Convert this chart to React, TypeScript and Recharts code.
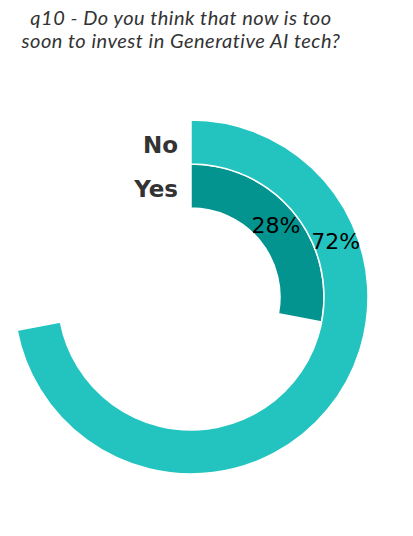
import React from "react";
import {
  RadialBarChart,
  RadialBar,
  PolarAngleAxis,
  PolarRadiusAxis,
  Cell,
} from "recharts";

// innermost ring first
const answers = ["Yes", "No"];
const shares = [28, 72];
const ringColors = ["#039490", "#23C4BF"];

// where along each ring the % label sits (degrees from the ring start)
const labelSweep: Record<string, number> = { Yes: 50, No: 69 };

const data = answers.map((name, i) => ({ name, value: shares[i] }));

const RAD = Math.PI / 180;

function renderCategoryTick(props: any) {
  const { x, y, payload } = props;
  return (
    <text
      x={x - 13}
      y={y}
      dy={3}
      textAnchor="end"
      dominantBaseline="central"
      fontFamily="DejaVu Sans"
      fontWeight="bold"
      fontSize={23}
      fill="#333333"
    >
      {payload.value}
    </text>
  );
}

function renderValueLabel(props: any) {
  const vb = props.viewBox ?? props;
  const { cx, cy, innerRadius, outerRadius, startAngle } = vb;
  const name = answers[props.index];
  const angle = startAngle - (labelSweep[name] ?? 0);
  const r = (innerRadius + outerRadius) / 2;
  const x = cx + r * Math.cos(-angle * RAD);
  const y = cy + r * Math.sin(-angle * RAD);
  return (
    <text
      x={x}
      y={y}
      textAnchor="middle"
      dominantBaseline="central"
      fontFamily="DejaVu Sans"
      fontSize={22}
      fill="#000000"
    >
      {`${props.value}%`}
    </text>
  );
}

export default function App() {
  return (
    <div
      style={{
        position: "absolute",
        left: 0,
        top: 0,
        width: 413,
        height: 536,
        background: "#fff",
      }}
    >
      <div
        style={{
          position: "absolute",
          left: 0,
          top: 6,
          width: 362,
          textAlign: "center",
          fontFamily: "Lato",
          fontStyle: "italic",
          fontSize: 20,
          letterSpacing: 0.5,
          lineHeight: "23px",
          color: "#333333",
        }}
      >
        q10 - Do you think that now is too
        <br />
        soon to invest in Generative AI tech?
      </div>
      <div style={{ position: "absolute", left: 0, top: 0 }}>
        <RadialBarChart
          width={413}
          height={536}
          cx={191}
          cy={297}
          innerRadius={89}
          outerRadius={177}
          startAngle={90}
          endAngle={-270}
          barCategoryGap={0}
          data={data}
        >
          <PolarAngleAxis type="number" domain={[0, 100]} tick={false} axisLine={false} />
          <PolarRadiusAxis
            type="category"
            dataKey="name"
            angle={90}
            orientation="left"
            axisLine={false}
            tickLine={false}
            tick={renderCategoryTick}
          />
          <RadialBar
            dataKey="value"
            isAnimationActive={false}
            stroke="#ffffff"
            strokeWidth={1.5}
            label={renderValueLabel}
          >
            {data.map((d, i) => (
              <Cell key={d.name} fill={ringColors[i]} />
            ))}
          </RadialBar>
        </RadialBarChart>
      </div>
    </div>
  );
}
